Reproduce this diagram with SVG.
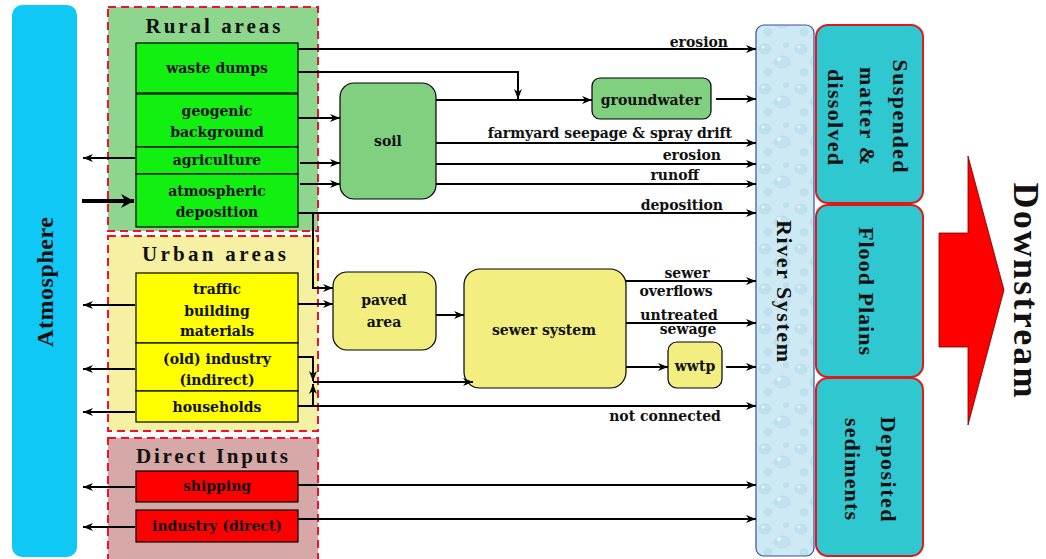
<svg xmlns="http://www.w3.org/2000/svg" width="1046" height="559" viewBox="0 0 1046 559">
<style>
.lbl{font-family:"DejaVu Serif","Liberation Serif",serif;font-weight:bold;font-size:14px;fill:#111;text-anchor:middle}
.lblr{font-family:"DejaVu Serif","Liberation Serif",serif;font-weight:bold;font-size:14px;fill:#111;text-anchor:end}
.ttl{font-family:"Liberation Serif",serif;font-weight:bold;font-size:21px;fill:#111;text-anchor:middle}
.big{font-family:"Liberation Serif",serif;font-weight:bold;fill:#111;text-anchor:middle}
.ln{fill:none;stroke:#000;stroke-width:2}
.la{fill:none;stroke:#000;stroke-width:2;marker-end:url(#ah)}
.box{stroke:#000;stroke-width:1.2}
.grp{stroke:#f01030;stroke-width:2;stroke-dasharray:8,5}
.cy{fill:#30C8D0;stroke:#e01818;stroke-width:2}
</style>
<defs>
<marker id="ah" markerUnits="userSpaceOnUse" markerWidth="11" markerHeight="10" refX="10" refY="5" orient="auto">
<path d="M0,1 L10,5 L0,9 L3,5 z" fill="#000"/>
</marker>
<marker id="ahb" markerUnits="userSpaceOnUse" markerWidth="14" markerHeight="14" refX="13" refY="7" orient="auto">
<path d="M0,0 L13,7 L0,14 L4,7 z" fill="#000"/>
</marker>
<pattern id="drops" width="36" height="40" patternUnits="userSpaceOnUse">
<rect width="36" height="40" fill="#CDE9F3"/>
<ellipse cx="9" cy="9" rx="6" ry="5" fill="#BFE1EE" stroke="#B0D6E6" stroke-width="0.6"/>
<ellipse cx="26" cy="22" rx="8" ry="6" fill="#C0E2EF" stroke="#B0D6E6" stroke-width="0.6"/>
<ellipse cx="12" cy="32" rx="4" ry="3.5" fill="#BFE1EE" stroke="#B0D6E6" stroke-width="0.6"/>
<ellipse cx="30" cy="5" rx="3" ry="2.5" fill="#BFE1EE" stroke="#B0D6E6" stroke-width="0.5"/>
<circle cx="7" cy="7" r="1.5" fill="#E4F4FA"/>
<circle cx="23" cy="19" r="2" fill="#E4F4FA"/>
</pattern>
</defs>

<g id="atmosphere">
<rect x="12" y="5" width="65" height="552" rx="10" fill="#10C8F6"/>
<text class="big" font-size="24" fill="#1a2040" textLength="130" lengthAdjust="spacing" transform="translate(53,282) rotate(-90)">Atmosphere</text>
</g>

<g id="rural">
<rect class="grp" x="108" y="7" width="210" height="224" fill="#8ED68E"/>
<text class="ttl" x="213" y="33" textLength="135" lengthAdjust="spacing">Rural areas</text>
</g>
<g id="waste-dumps">
<rect class="box" x="136" y="43" width="162" height="50" fill="#12F012"/>
<text class="lbl" x="217" y="73">waste dumps</text>
</g>
<g id="geogenic">
<rect class="box" x="136" y="94" width="162" height="53" fill="#12F012"/>
<text class="lbl" x="217" y="116">geogenic</text>
<text class="lbl" x="217" y="137">background</text>
</g>
<g id="agriculture">
<rect class="box" x="136" y="147" width="162" height="27" fill="#12F012"/>
<text class="lbl" x="217" y="165">agriculture</text>
</g>
<g id="atm-deposition">
<rect class="box" x="136" y="174" width="162" height="53" fill="#12F012"/>
<text class="lbl" x="217" y="196">atmospheric</text>
<text class="lbl" x="217" y="217">deposition</text>
</g>

<g id="urban">
<rect class="grp" x="108" y="236" width="210" height="195" fill="#F6F0A2"/>
<text class="ttl" x="214" y="261" textLength="144" lengthAdjust="spacing">Urban areas</text>
</g>
<g id="traffic">
<rect class="box" x="136" y="273" width="162" height="70" fill="#FFFF00"/>
<text class="lbl" x="217" y="294">traffic</text>
<text class="lbl" x="217" y="316">building</text>
<text class="lbl" x="217" y="336">materials</text>
</g>
<g id="old-industry">
<rect class="box" x="136" y="343" width="162" height="48" fill="#FFFF00"/>
<text class="lbl" x="217" y="364">(old) industry</text>
<text class="lbl" x="217" y="385">(indirect)</text>
</g>
<g id="households">
<rect class="box" x="136" y="391" width="162" height="31" fill="#FFFF00"/>
<text class="lbl" x="217" y="412">households</text>
</g>

<g id="direct">
<rect class="grp" x="108" y="438" width="210" height="125" fill="#D6A8A8"/>
<text class="ttl" x="212" y="463" textLength="152" lengthAdjust="spacing">Direct Inputs</text>
</g>
<g id="shipping">
<rect class="box" x="136" y="471" width="162" height="31" fill="#FF0000"/>
<text class="lbl" x="217" y="491">shipping</text>
</g>
<g id="industry-direct">
<rect class="box" x="136" y="510" width="162" height="32" fill="#FF0000"/>
<text class="lbl" x="217" y="531">industry (direct)</text>
</g>

<g id="soil">
<rect class="box" x="340" y="83" width="96" height="116" rx="14" fill="#80D080"/>
<text class="lbl" x="388" y="146">soil</text>
</g>
<g id="groundwater">
<rect class="box" x="592" y="78" width="119" height="41" rx="8" fill="#80D080"/>
<text class="lbl" x="651" y="105">groundwater</text>
</g>
<g id="paved-area">
<rect class="box" x="333" y="272" width="103" height="78" rx="14" fill="#F2EE80"/>
<text class="lbl" x="384" y="305">paved</text>
<text class="lbl" x="384" y="327">area</text>
</g>
<g id="sewer-system">
<rect class="box" x="464" y="269" width="162" height="119" rx="16" fill="#F2EE80"/>
<text class="lbl" x="544" y="335">sewer system</text>
</g>
<g id="wwtp">
<rect class="box" x="668" y="342" width="54" height="46" rx="9" fill="#F2EE80"/>
<text class="lbl" x="695" y="371">wwtp</text>
</g>

<g id="river-system">
<rect x="756" y="25" width="58" height="531" rx="8" fill="url(#drops)" stroke="#3A4CA0" stroke-width="1.2"/>
<text class="big" font-size="22" textLength="142" lengthAdjust="spacing" transform="translate(777,291) rotate(90)">River System</text>
</g>
<g id="suspended">
<rect class="cy" x="816" y="25" width="107" height="178" rx="12"/>
<text class="big" font-size="22" textLength="113" lengthAdjust="spacing" transform="translate(893,116) rotate(90)">Suspended</text>
<text class="big" font-size="22" textLength="98" lengthAdjust="spacing" transform="translate(860,116) rotate(90)">matter &amp;</text>
<text class="big" font-size="22" textLength="96" lengthAdjust="spacing" transform="translate(828,117) rotate(90)">dissolved</text>
</g>
<g id="flood-plains">
<rect class="cy" x="816" y="205" width="107" height="172" rx="12"/>
<text class="big" font-size="22" textLength="128" lengthAdjust="spacing" transform="translate(859,291) rotate(90)">Flood Plains</text>
</g>
<g id="deposited">
<rect class="cy" x="816" y="378" width="107" height="178" rx="12"/>
<text class="big" font-size="22" textLength="105" lengthAdjust="spacing" transform="translate(881,469) rotate(90)">Deposited</text>
<text class="big" font-size="22" textLength="102" lengthAdjust="spacing" transform="translate(845,469) rotate(90)">sediments</text>
</g>
<g id="downstream">
<polygon points="939,233 968,233 968,156 1004,290 968,425 968,347 939,347" fill="#FF0000" stroke="#600" stroke-width="0.8"/>
<text class="big" font-size="36" textLength="215" lengthAdjust="spacing" transform="translate(1014,290) rotate(90)">Downstream</text>
</g>

<g id="connectors">
<line class="la" x1="298" y1="49" x2="756" y2="49"/>
<polyline class="la" points="298,72 518,72 518,99"/>
<line class="la" x1="298" y1="118" x2="340" y2="118"/>
<line class="la" x1="300" y1="163" x2="340" y2="163"/>
<line class="la" x1="300" y1="184" x2="340" y2="184"/>
<line class="la" x1="298" y1="213" x2="756" y2="213"/>
<line class="la" x1="436" y1="100" x2="592" y2="100"/>
<line class="la" x1="716" y1="99" x2="756" y2="99"/>
<line class="la" x1="436" y1="143" x2="756" y2="143"/>
<line class="la" x1="436" y1="164" x2="756" y2="164"/>
<line class="la" x1="436" y1="184" x2="756" y2="184"/>
<polyline class="la" points="313,213 313,288 333,288"/>
<line class="la" x1="298" y1="304" x2="333" y2="304"/>
<line class="la" x1="436" y1="315" x2="464" y2="315"/>
<line class="la" x1="626" y1="281" x2="756" y2="281"/>
<line class="la" x1="626" y1="323" x2="756" y2="323"/>
<line class="la" x1="626" y1="367" x2="668" y2="367"/>
<line class="la" x1="726" y1="367" x2="756" y2="367"/>
<polyline class="la" points="298,357 313,357 313,381"/>
<line class="la" x1="298" y1="406" x2="756" y2="406"/>
<line class="la" x1="313" y1="406" x2="313" y2="384"/>
<line class="la" x1="313" y1="382" x2="473" y2="382"/>
<line class="la" x1="298" y1="485" x2="756" y2="485"/>
<line class="la" x1="298" y1="519" x2="756" y2="519"/>
<line class="la" x1="135" y1="158" x2="83" y2="158"/>
<line class="la" x1="135" y1="305" x2="83" y2="305"/>
<line class="la" x1="135" y1="369" x2="83" y2="369"/>
<line class="la" x1="135" y1="412" x2="83" y2="412"/>
<line class="la" x1="135" y1="487" x2="83" y2="487"/>
<line class="la" x1="135" y1="527" x2="83" y2="527"/>
<line x1="82" y1="201" x2="134" y2="201" stroke="#000" stroke-width="4" marker-end="url(#ahb)"/>
<text class="lblr" x="728" y="47">erosion</text>
<text class="lblr" x="732" y="138">farmyard seepage &amp; spray drift</text>
<text class="lblr" x="721" y="160">erosion</text>
<text class="lblr" x="699" y="180">runoff</text>
<text class="lblr" x="723" y="210">deposition</text>
<text class="lbl" x="687" y="278">sewer</text>
<text class="lbl" x="676" y="296">overflows</text>
<text class="lbl" x="679" y="320">untreated</text>
<text class="lbl" x="688" y="334">sewage</text>
<text class="lbl" x="665" y="421">not connected</text>
</g>
</svg>
